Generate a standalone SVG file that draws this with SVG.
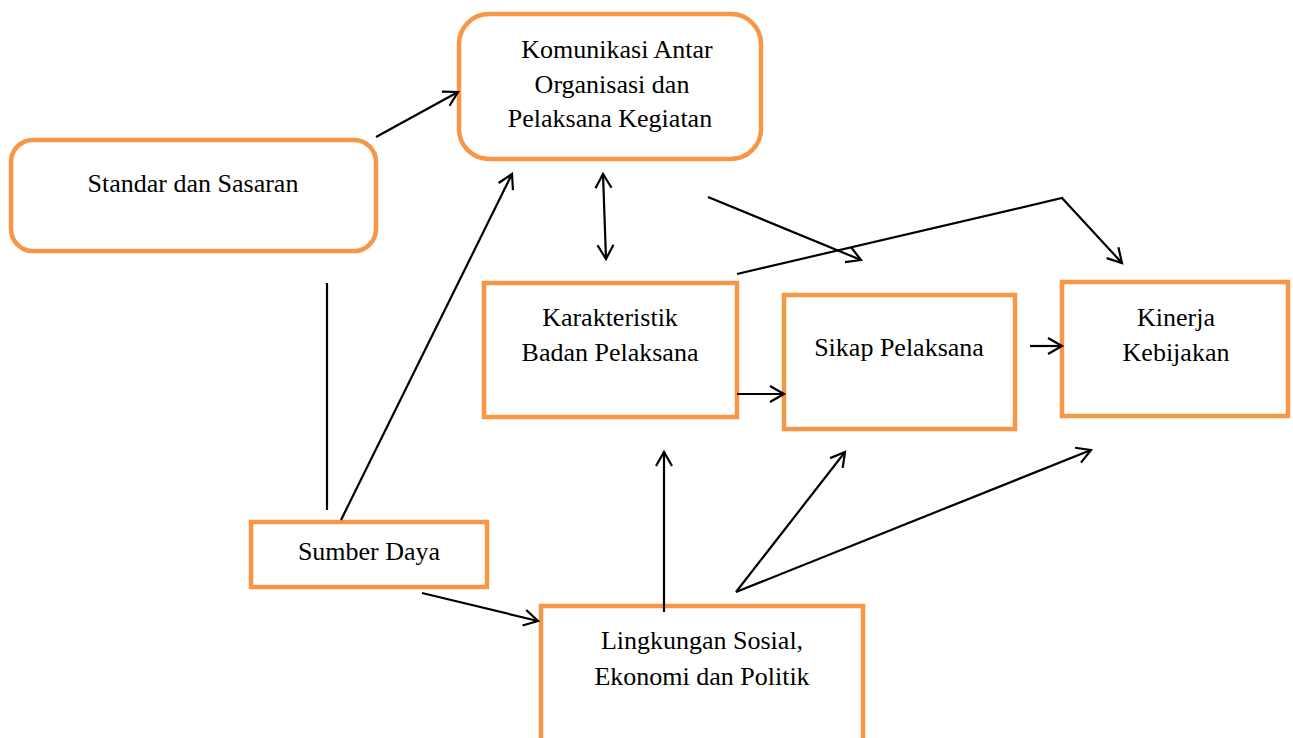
<svg xmlns="http://www.w3.org/2000/svg" width="1293" height="738" viewBox="0 0 1293 738">
<style>
.box{fill:#fff;stroke:#F79646;stroke-width:4.5}
.t{font-family:"Liberation Serif","Times New Roman",serif;font-size:26px;fill:#000;text-anchor:middle}
.c{fill:none;stroke:#000;stroke-width:2.2}
</style>
<defs>
<marker id="ah" markerUnits="userSpaceOnUse" markerWidth="20" markerHeight="20" viewBox="0 0 20 20" refX="17" refY="10" orient="auto-start-reverse">
<path d="M3,2 L17,10 L3,18" fill="none" stroke="#000" stroke-width="2.2"/>
</marker>
</defs>
<rect width="1293" height="738" fill="#fff"/>
<g id="standar">
<rect class="box" x="11" y="140" width="365" height="111" rx="22"/>
<text class="t" x="193" y="192">Standar dan Sasaran</text>
</g>
<g id="komunikasi">
<rect class="box" x="459" y="14" width="302" height="145" rx="30"/>
<text class="t" x="617" y="58">Komunikasi Antar</text>
<text class="t" x="612" y="93">Organisasi dan</text>
<text class="t" x="610" y="127">Pelaksana Kegiatan</text>
</g>
<g id="karakteristik">
<rect class="box" x="484" y="283" width="253" height="134"/>
<text class="t" x="610" y="326">Karakteristik</text>
<text class="t" x="610" y="361">Badan Pelaksana</text>
</g>
<g id="sikap">
<rect class="box" x="784" y="295" width="231" height="134"/>
<text class="t" x="899" y="356">Sikap Pelaksana</text>
</g>
<g id="kinerja">
<rect class="box" x="1062" y="282" width="226" height="134"/>
<text class="t" x="1176" y="326">Kinerja</text>
<text class="t" x="1176" y="361">Kebijakan</text>
</g>
<g id="sumber">
<rect class="box" x="251" y="522" width="236" height="65"/>
<text class="t" x="369" y="560">Sumber Daya</text>
</g>
<g id="lingkungan">
<rect class="box" x="541" y="606" width="322" height="150"/>
<text class="t" x="702" y="649">Lingkungan Sosial,</text>
<text class="t" x="702" y="685">Ekonomi dan Politik</text>
</g>
<g id="connectors">
<line class="c" x1="376" y1="137" x2="458" y2="92" marker-end="url(#ah)"/>
<line class="c" x1="327" y1="283" x2="327" y2="510"/>
<line class="c" x1="341" y1="520" x2="512" y2="174" marker-end="url(#ah)"/>
<line class="c" x1="603" y1="174" x2="606" y2="259" marker-start="url(#ah)" marker-end="url(#ah)"/>
<line class="c" x1="708" y1="197" x2="861" y2="260" marker-end="url(#ah)"/>
<polyline class="c" points="737,274 1062,198 1122,263" marker-end="url(#ah)"/>
<line class="c" x1="737" y1="394" x2="784" y2="394" marker-end="url(#ah)"/>
<line class="c" x1="1030" y1="346" x2="1062" y2="346" marker-end="url(#ah)"/>
<line class="c" x1="422" y1="593" x2="538" y2="621" marker-end="url(#ah)"/>
<line class="c" x1="664" y1="612" x2="664" y2="452" marker-end="url(#ah)"/>
<line class="c" x1="736" y1="592" x2="845" y2="452" marker-end="url(#ah)"/>
<line class="c" x1="736" y1="592" x2="1091" y2="450" marker-end="url(#ah)"/>
</g>
</svg>
